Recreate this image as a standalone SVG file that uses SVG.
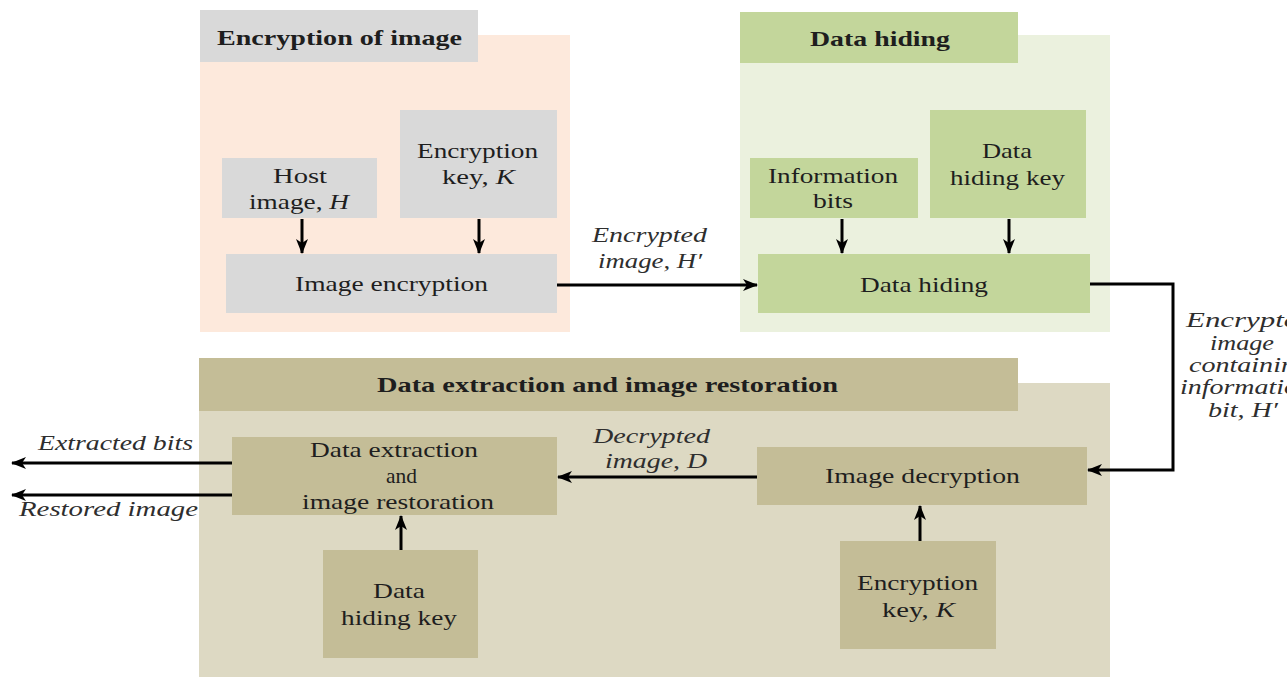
<svg xmlns="http://www.w3.org/2000/svg" width="1287" height="677" viewBox="0 0 1287 677">
<defs>
<style>
text{font-family:"Liberation Serif","Times New Roman",serif;font-size:21px;fill:#1e1e1e}
.b{font-weight:bold}
.i{font-style:italic;fill:#2e2e2e}
.gray{fill:#d9d9d9}
.peach{fill:#fde9dc}
.gbox{fill:#c3d69b}
.gpan{fill:#ebf1de}
.tbox{fill:#c4bd97}
.tpan{fill:#ddd9c3}
.ln{stroke:#000;stroke-width:3;fill:none;marker-end:url(#ah)}
</style>
<marker id="ah" markerUnits="userSpaceOnUse" markerWidth="16" markerHeight="12" refX="14" refY="6" orient="auto">
<path d="M0,0 L15,6 L0,12 L4,6 z" fill="#000"/>
</marker>
</defs>
<rect width="1287" height="677" fill="#fff"/>

<g id="panel-encryption">
<rect class="peach" x="200" y="35" width="370" height="297"/>
<rect class="gray" x="200" y="10" width="278" height="52"/>
<text class="b" x="217" y="45" textLength="245" lengthAdjust="spacingAndGlyphs">Encryption of image</text>
</g>
<g id="panel-datahiding">
<rect class="gpan" x="740" y="35" width="370" height="297"/>
<rect class="gbox" x="740" y="12" width="278" height="51"/>
<text class="b" x="810" y="46" textLength="140" lengthAdjust="spacingAndGlyphs">Data hiding</text>
</g>
<g id="panel-extraction">
<rect class="tpan" x="199" y="383" width="911" height="294"/>
<rect class="tbox" x="199" y="358" width="819" height="53"/>
<text class="b" x="377" y="392" textLength="461" lengthAdjust="spacingAndGlyphs">Data extraction and image restoration</text>
</g>

<g id="host-image">
<rect class="gray" x="222" y="158" width="155" height="60"/>
<text x="273" y="183" textLength="54" lengthAdjust="spacingAndGlyphs">Host</text>
<text x="249" y="209" textLength="100" lengthAdjust="spacingAndGlyphs">image, <tspan font-style="italic">H</tspan></text>
</g>
<g id="encryption-key-1">
<rect class="gray" x="400" y="110" width="157" height="108"/>
<text x="417" y="158" textLength="121" lengthAdjust="spacingAndGlyphs">Encryption</text>
<text x="442" y="184" textLength="73" lengthAdjust="spacingAndGlyphs">key, <tspan font-style="italic">K</tspan></text>
</g>
<g id="image-encryption">
<rect class="gray" x="226" y="254" width="331" height="59"/>
<text x="295" y="291" textLength="193" lengthAdjust="spacingAndGlyphs">Image encryption</text>
</g>

<g id="information-bits">
<rect class="gbox" x="750" y="158" width="168" height="60"/>
<text x="768" y="183" textLength="130" lengthAdjust="spacingAndGlyphs">Information</text>
<text x="813" y="208" textLength="40" lengthAdjust="spacingAndGlyphs">bits</text>
</g>
<g id="data-hiding-key-1">
<rect class="gbox" x="930" y="110" width="156" height="108"/>
<text x="982" y="158" textLength="50" lengthAdjust="spacingAndGlyphs">Data</text>
<text x="950" y="185" textLength="115" lengthAdjust="spacingAndGlyphs">hiding key</text>
</g>
<g id="data-hiding">
<rect class="gbox" x="758" y="254" width="332" height="59"/>
<text x="860" y="292" textLength="128" lengthAdjust="spacingAndGlyphs">Data hiding</text>
</g>

<g id="data-extraction">
<rect class="tbox" x="232" y="437" width="325" height="78"/>
<text x="310" y="457" textLength="168" lengthAdjust="spacingAndGlyphs">Data extraction</text>
<text x="386" y="483" textLength="31" lengthAdjust="spacingAndGlyphs">and</text>
<text x="302" y="509" textLength="192" lengthAdjust="spacingAndGlyphs">image restoration</text>
</g>
<g id="data-hiding-key-2">
<rect class="tbox" x="323" y="550" width="155" height="108"/>
<text x="373" y="598" textLength="52" lengthAdjust="spacingAndGlyphs">Data</text>
<text x="341" y="625" textLength="116" lengthAdjust="spacingAndGlyphs">hiding key</text>
</g>
<g id="image-decryption">
<rect class="tbox" x="757" y="447" width="330" height="58"/>
<text x="825" y="483" textLength="195" lengthAdjust="spacingAndGlyphs">Image decryption</text>
</g>
<g id="encryption-key-2">
<rect class="tbox" x="840" y="541" width="156" height="108"/>
<text x="857" y="590" textLength="121" lengthAdjust="spacingAndGlyphs">Encryption</text>
<text x="882" y="617" textLength="73" lengthAdjust="spacingAndGlyphs">key, <tspan font-style="italic">K</tspan></text>
</g>

<g id="connectors">
<path class="ln" d="M302,219 V253"/>
<path class="ln" d="M479,219 V253"/>
<path class="ln" d="M842,219 V253"/>
<path class="ln" d="M1009,219 V253"/>
<path class="ln" d="M557,285 H757"/>
<path class="ln" d="M1090,284 H1173 V470 H1088"/>
<path class="ln" d="M757,477 H558"/>
<path class="ln" d="M920,541 V506"/>
<path class="ln" d="M401,550 V516"/>
<path class="ln" d="M232,463 H12"/>
<path class="ln" d="M232,495 H12"/>
</g>

<g id="connector-labels">
<text class="i" x="592" y="242" textLength="115" lengthAdjust="spacingAndGlyphs">Encrypted</text>
<text class="i" x="598" y="268" textLength="104" lengthAdjust="spacingAndGlyphs">image, H′</text>
<text class="i" x="593" y="443" textLength="117" lengthAdjust="spacingAndGlyphs">Decrypted</text>
<text class="i" x="605" y="468" textLength="102" lengthAdjust="spacingAndGlyphs">image, D</text>
<text class="i" x="38" y="450" textLength="155" lengthAdjust="spacingAndGlyphs">Extracted bits</text>
<text class="i" x="19" y="516" textLength="179" lengthAdjust="spacingAndGlyphs">Restored image</text>
<text class="i" x="1186" y="327" textLength="127" lengthAdjust="spacingAndGlyphs">Encrypted</text>
<text class="i" x="1210" y="350" textLength="64" lengthAdjust="spacingAndGlyphs">image</text>
<text class="i" x="1189" y="372" textLength="120" lengthAdjust="spacingAndGlyphs">containing</text>
<text class="i" x="1180" y="394" textLength="132" lengthAdjust="spacingAndGlyphs">information</text>
<text class="i" x="1208" y="417" textLength="70" lengthAdjust="spacingAndGlyphs">bit, H′</text>
</g>
</svg>
